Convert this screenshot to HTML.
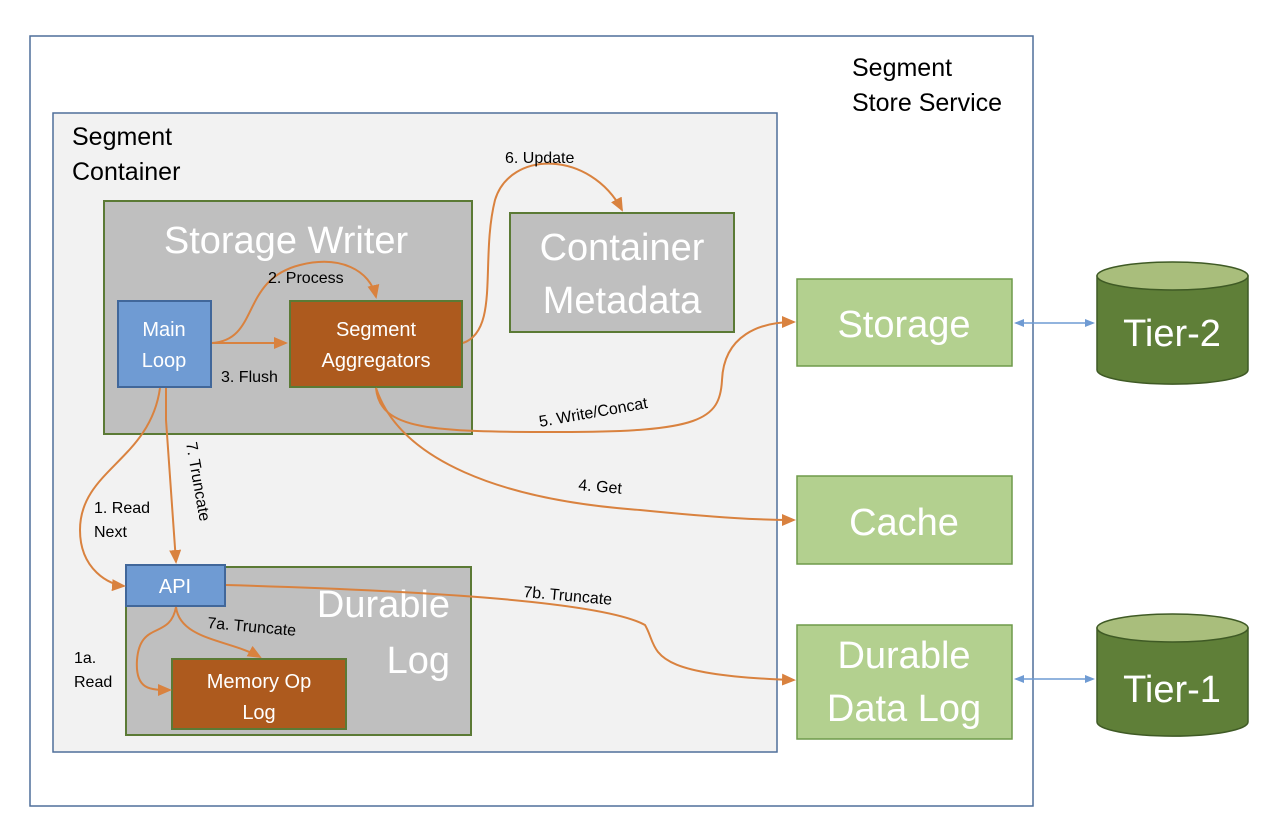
<!DOCTYPE html>
<html><head><style>html,body{margin:0;padding:0;background:#fff}svg{display:block}</style></head>
<body>
<svg width="1280" height="840" xmlns="http://www.w3.org/2000/svg" font-family="Liberation Sans, sans-serif">
<defs>
<marker id="a" markerWidth="14" markerHeight="12" refX="12" refY="6" orient="auto" markerUnits="userSpaceOnUse"><path d="M0,0 L14,6 L0,12 Z" fill="#d9823f"/></marker>
<marker id="b" markerWidth="10" markerHeight="10" refX="8" refY="5" orient="auto-start-reverse" markerUnits="userSpaceOnUse"><path d="M0,1 L10,5 L0,9 Z" fill="#6f9bd3"/></marker>
</defs>
<rect x="30" y="36" width="1003" height="770" fill="#fff" stroke="#4f6f9a" stroke-width="1.5"/>
<text x="852" y="76" font-size="25" fill="#000">Segment</text>
<text x="852" y="111" font-size="25" fill="#000">Store Service</text>
<rect x="53" y="113" width="724" height="639" fill="#f2f2f2" stroke="#4f6f9a" stroke-width="1.5"/>
<text x="72" y="145" font-size="25">Segment</text>
<text x="72" y="180" font-size="25">Container</text>
<rect x="104" y="201" width="368" height="233" fill="#bfbfbf" stroke="#5b7a35" stroke-width="2"/>
<text x="286" y="253" font-size="38" fill="#fff" text-anchor="middle">Storage Writer</text>
<rect x="510" y="213" width="224" height="119" fill="#bfbfbf" stroke="#5b7a35" stroke-width="2"/>
<text x="622" y="260" font-size="38" fill="#fff" text-anchor="middle">Container</text>
<text x="622" y="313" font-size="38" fill="#fff" text-anchor="middle">Metadata</text>
<rect x="126" y="567" width="345" height="168" fill="#bfbfbf" stroke="#5b7a35" stroke-width="2"/>
<text x="450" y="617" font-size="38" fill="#fff" text-anchor="end">Durable</text>
<text x="450" y="673" font-size="38" fill="#fff" text-anchor="end">Log</text>
<rect x="118" y="301" width="93" height="86" fill="#6f9bd3" stroke="#41679a" stroke-width="2"/>
<text x="164" y="336" font-size="20" fill="#fff" text-anchor="middle">Main</text>
<text x="164" y="367" font-size="20" fill="#fff" text-anchor="middle">Loop</text>
<rect x="290" y="301" width="172" height="86" fill="#ad5a1e" stroke="#5b7a35" stroke-width="2"/>
<text x="376" y="336" font-size="20" fill="#fff" text-anchor="middle">Segment</text>
<text x="376" y="367" font-size="20" fill="#fff" text-anchor="middle">Aggregators</text>
<rect x="126" y="565" width="99" height="41" fill="#6f9bd3" stroke="#41679a" stroke-width="2"/>
<text x="175" y="593" font-size="20" fill="#fff" text-anchor="middle">API</text>
<rect x="172" y="659" width="174" height="70" fill="#ad5a1e" stroke="#5b7a35" stroke-width="2"/>
<text x="259" y="688" font-size="20" fill="#fff" text-anchor="middle">Memory Op</text>
<text x="259" y="719" font-size="20" fill="#fff" text-anchor="middle">Log</text>
<g fill="#b3d08f" stroke="#6f9a4a" stroke-width="1.5">
<rect x="797" y="279" width="215" height="87"/>
<rect x="797" y="476" width="215" height="88"/>
<rect x="797" y="625" width="215" height="114"/>
</g>
<g font-size="38" fill="#fff" text-anchor="middle">
<text x="904" y="337">Storage</text>
<text x="904" y="535">Cache</text>
<text x="904" y="668">Durable</text>
<text x="904" y="721">Data Log</text>
</g>
<g stroke="#3f5a25" stroke-width="1.5">
<path d="M1097,276 L1097,370 A75,14 0 0 0 1248,370 L1248,276 Z" fill="#5f7f38"/>
<ellipse cx="1172.5" cy="276" rx="75.5" ry="14" fill="#a9be7c"/>
<path d="M1097,628 L1097,722 A75,14 0 0 0 1248,722 L1248,628 Z" fill="#5f7f38"/>
<ellipse cx="1172.5" cy="628" rx="75.5" ry="14" fill="#a9be7c"/>
</g>
<text x="1172" y="346" font-size="38" fill="#fff" text-anchor="middle">Tier-2</text>
<text x="1172" y="702" font-size="38" fill="#fff" text-anchor="middle">Tier-1</text>
<line x1="1016" y1="323" x2="1093" y2="323" stroke="#6f9bd3" stroke-width="1.5" marker-start="url(#b)" marker-end="url(#b)"/>
<line x1="1016" y1="679" x2="1093" y2="679" stroke="#6f9bd3" stroke-width="1.5" marker-start="url(#b)" marker-end="url(#b)"/>
<g fill="none" stroke="#d9823f" stroke-width="2">
<path d="M212,343 L286,343" marker-end="url(#a)"/>
<path d="M212,343 C260,340 240,280 300,265 C340,255 370,270 376,297" marker-end="url(#a)"/>
<path d="M463,343 C500,330 480,260 495,200 C510,150 590,150 622,210" marker-end="url(#a)"/>
<path d="M376,388 C380,430 430,432 560,432 C700,432 720,420 722,380 C724,335 760,322 794,322" marker-end="url(#a)"/>
<path d="M376,388 C400,460 500,500 640,510 C720,518 760,520 794,520" marker-end="url(#a)"/>
<path d="M226,585 C400,590 600,600 645,625 C660,650 640,675 794,680" marker-end="url(#a)"/>
<path d="M166,388 L166,420 L176,562" marker-end="url(#a)"/>
<path d="M160,388 C150,460 80,470 80,530 C80,570 110,585 124,586" marker-end="url(#a)"/>
<path d="M176,607 C180,640 230,640 260,657" marker-end="url(#a)"/>
<path d="M176,607 C170,640 140,620 137,660 C135,690 150,690 170,690" marker-end="url(#a)"/>
</g>
<g font-size="16" fill="#000">
<text x="505" y="163">6. Update</text>
<text x="268" y="283">2. Process</text>
<text x="221" y="382">3. Flush</text>
<text x="540" y="427" transform="rotate(-10 540 427)">5. Write/Concat</text>
<text x="578" y="490" transform="rotate(5 578 490)">4. Get</text>
<text x="523" y="597" transform="rotate(5 523 597)">7b. Truncate</text>
<text x="207" y="628" transform="rotate(5 207 628)">7a. Truncate</text>
<text x="94" y="513">1. Read</text>
<text x="94" y="537">Next</text>
<text x="74" y="663">1a.</text>
<text x="74" y="687">Read</text>
<text x="186" y="443" transform="rotate(80 186 443)">7. Truncate</text>
</g>
</svg>
</body></html>
